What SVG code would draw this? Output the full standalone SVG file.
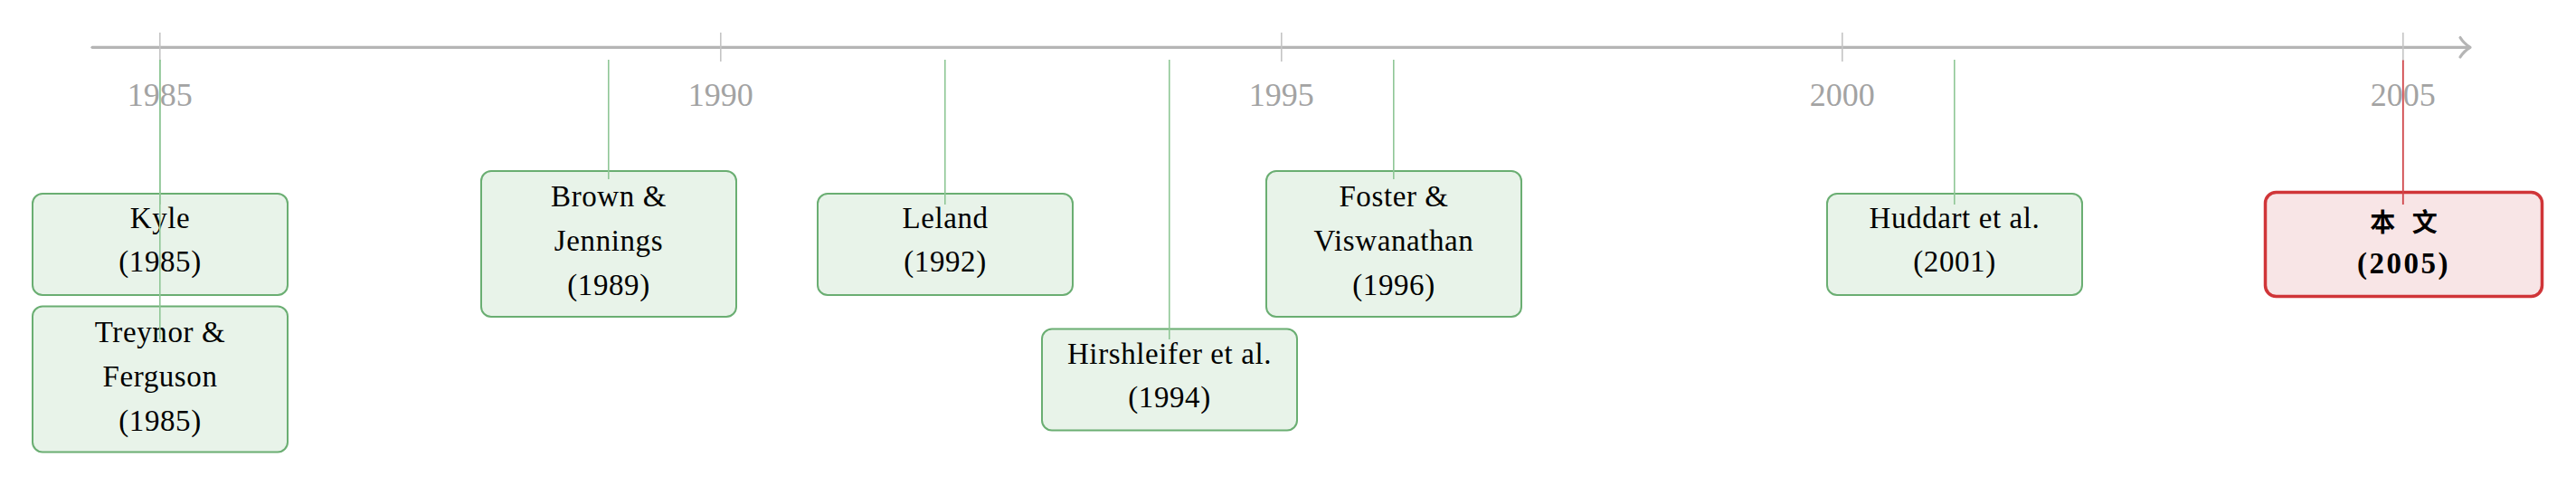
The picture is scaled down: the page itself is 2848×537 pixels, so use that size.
<svg xmlns="http://www.w3.org/2000/svg" width="2848" height="537" viewBox="0 0 2848 537">
<style>
.axis{stroke:#b5b5b5;stroke-width:3.2;fill:none;stroke-linecap:round;stroke-linejoin:round}
.tick{stroke:#c4c4c4;stroke-width:1.6}
.year{font-family:"Liberation Serif","DejaVu Serif",serif;font-size:36px;fill:#a3a3a3;text-anchor:middle}
.box{fill:#e8f3e9;stroke:#6aae72;stroke-width:2}
.hbox{fill:#f8e5e6;stroke:#d03538;stroke-width:3.5}
.t{font-family:"Liberation Serif","DejaVu Serif",serif;font-size:33px;fill:#000;text-anchor:middle;letter-spacing:0.6px}
.tb{font-family:"Liberation Serif","Noto Sans CJK SC",serif;font-size:33px;font-weight:bold;fill:#000;text-anchor:middle;letter-spacing:2.5px}
.cjk{font-family:"Noto Sans CJK SC","Noto Sans CJK JP",sans-serif;font-size:28px;font-weight:bold;fill:#000;text-anchor:middle;word-spacing:12px}
.conn{stroke:#8fc796;stroke-width:1.6}
.connh{stroke:#d0454a;stroke-width:1.8}
</style>
<g id="timeline">
<line class="axis" x1="102" y1="52.3" x2="2729" y2="52.3"/>
<path class="axis" d="M2720,41.5 Q2724,48 2731,52.3 Q2724,56.5 2720,63"/>
<line class="tick" x1="176.8" y1="36" x2="176.8" y2="68"/>
<line class="tick" x1="796.8" y1="36" x2="796.8" y2="68"/>
<line class="tick" x1="1416.8" y1="36" x2="1416.8" y2="68"/>
<line class="tick" x1="2036.8" y1="36" x2="2036.8" y2="68"/>
<line class="tick" x1="2656.8" y1="36" x2="2656.8" y2="68"/>
<text class="year" x="176.8" y="117">1985</text>
<text class="year" x="796.8" y="117">1990</text>
<text class="year" x="1416.8" y="117">1995</text>
<text class="year" x="2036.8" y="117">2000</text>
<text class="year" x="2656.8" y="117">2005</text>
</g>
<g id="kyle">
<rect class="box" x="36" y="214" width="282" height="112" rx="11"/>
<text class="t" x="177" y="252">Kyle</text>
<text class="t" x="177" y="300">(1985)</text>
</g>
<g id="treynor">
<rect class="box" x="36" y="338.5" width="282" height="161" rx="11"/>
<text class="t" x="177" y="378">Treynor &amp;</text>
<text class="t" x="177" y="427">Ferguson</text>
<text class="t" x="177" y="476">(1985)</text>
</g>
<g id="brown">
<rect class="box" x="532" y="189" width="282" height="161" rx="11"/>
<text class="t" x="673" y="228">Brown &amp;</text>
<text class="t" x="673" y="277">Jennings</text>
<text class="t" x="673" y="326">(1989)</text>
</g>
<g id="leland">
<rect class="box" x="904" y="214" width="282" height="112" rx="11"/>
<text class="t" x="1045" y="252">Leland</text>
<text class="t" x="1045" y="300">(1992)</text>
</g>
<g id="hirshleifer">
<rect class="box" x="1152" y="363.5" width="282" height="112" rx="11"/>
<text class="t" x="1293" y="402">Hirshleifer et al.</text>
<text class="t" x="1293" y="450">(1994)</text>
</g>
<g id="foster">
<rect class="box" x="1400" y="189" width="282" height="161" rx="11"/>
<text class="t" x="1541" y="228">Foster &amp;</text>
<text class="t" x="1541" y="277">Viswanathan</text>
<text class="t" x="1541" y="326">(1996)</text>
</g>
<g id="huddart">
<rect class="box" x="2020" y="214" width="282" height="112" rx="11"/>
<text class="t" x="2161" y="252">Huddart et al.</text>
<text class="t" x="2161" y="300">(2001)</text>
</g>
<g id="thispaper">
<rect class="hbox" x="2504.5" y="212.5" width="306" height="115" rx="12"/>
<text class="cjk" x="2657.5" y="256">本 文</text>
<text class="tb" x="2657.5" y="302">(2005)</text>
</g>
<g id="connectors">
<line class="conn" x1="176.8" y1="66" x2="176.8" y2="226"/>
<line class="conn" x1="176.8" y1="66" x2="176.8" y2="375"/>
<line class="conn" x1="672.8" y1="66" x2="672.8" y2="198"/>
<line class="conn" x1="1044.8" y1="66" x2="1044.8" y2="226"/>
<line class="conn" x1="1292.8" y1="66" x2="1292.8" y2="375"/>
<line class="conn" x1="1540.8" y1="66" x2="1540.8" y2="198"/>
<line class="conn" x1="2160.8" y1="66" x2="2160.8" y2="226"/>
<line class="connh" x1="2656.8" y1="66.5" x2="2656.8" y2="226"/>
</g>
</svg>
